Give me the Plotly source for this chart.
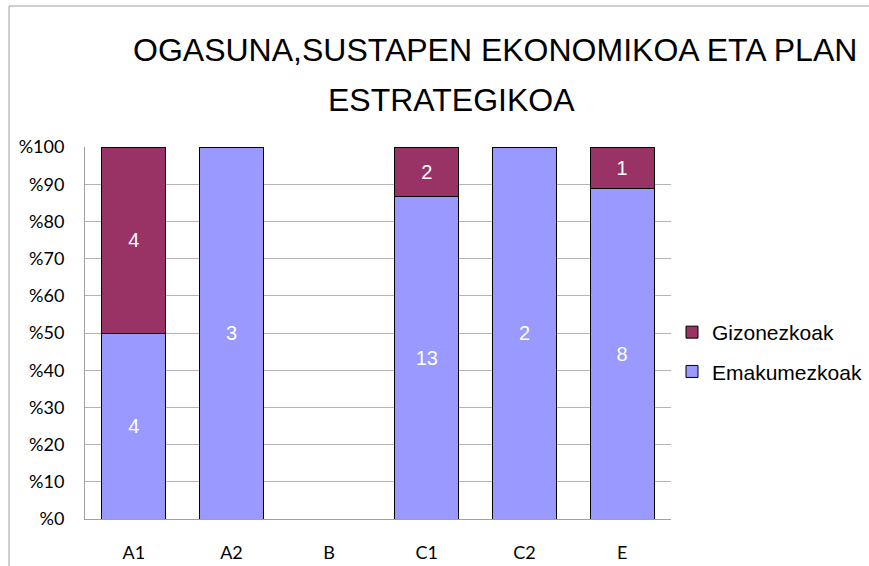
import plotly.graph_objects as go

categories = ["A1", "A2", "B", "C1", "C2", "E"]
emakumezkoak = [4, 3, 0, 13, 2, 8]
gizonezkoak = [4, 0, 0, 2, 0, 1]
y_ticks = [0, 10, 20, 30, 40, 50, 60, 70, 80, 90, 100]
y_ticklabels = ["%" + str(v) for v in y_ticks]

L, R, T, B = 85, 671, 147, 519
W, H = 869, 566
pw, ph = R - L, B - T

def px_x(x):
    return (x - L) / pw

def px_y(y):
    return (B - y) / ph

fig = go.Figure()
fig.add_trace(go.Bar(
    name="Emakumezkoak", x=categories, y=emakumezkoak, legendgroup="e", legendrank=2,
    marker=dict(color="#9999FF", line=dict(color="#000000", width=1)),
    text=[str(v) if v else "" for v in emakumezkoak],
    textposition="inside", insidetextanchor="middle",
    textfont=dict(color="white", size=20, family="Liberation Sans"),
))
fig.add_trace(go.Bar(
    name="Gizonezkoak", x=categories, y=gizonezkoak, legendgroup="g", legendrank=1,
    marker=dict(color="#993366", line=dict(color="#000000", width=1)),
    text=[str(v) if v else "" for v in gizonezkoak],
    textposition="inside", insidetextanchor="middle",
    textfont=dict(color="white", size=20, family="Liberation Sans"),
))

fig.update_layout(
    width=W, height=H,
    barmode="stack", barnorm="percent", bargap=0.345,
    plot_bgcolor="white", paper_bgcolor="white",
    margin=dict(l=L, r=W - R, t=T, b=H - B, pad=0, autoexpand=False),
    showlegend=True,
    legend=dict(
        traceorder="grouped", x=px_x(672), y=px_y(312), xanchor="left", yanchor="top",
        font=dict(family="Liberation Sans", size=21, color="black"),
        itemwidth=30, tracegroupgap=9, bgcolor="rgba(0,0,0,0)",
    ),
    uniformtext=dict(mode="show", minsize=10),
)
fig.update_xaxes(
    showgrid=False, showline=True, linecolor="#a0a0a0", linewidth=1,
    ticks="outside", ticklen=17, tickcolor="rgba(0,0,0,0)",
    tickfont=dict(family="Lato", size=18, color="black"),
    automargin=False,
)
fig.update_yaxes(
    range=[0, 100], tickvals=y_ticks, ticktext=y_ticklabels,
    showgrid=True, gridcolor="#b4b4b4", gridwidth=1,
    showline=True, linecolor="#a0a0a0", linewidth=1,
    ticks="outside", ticklen=16, tickcolor="rgba(0,0,0,0)",
    tickfont=dict(family="Lato", size=18, color="black"),
    zeroline=False, automargin=False,
)

fig.add_annotation(text="OGASUNA,SUSTAPEN EKONOMIKOA ETA PLAN", xref="paper", yref="paper",
                   x=px_x(495), y=px_y(50), xanchor="center", yanchor="middle", showarrow=False,
                   font=dict(family="Liberation Sans", size=32, color="black"))
fig.add_annotation(text="ESTRATEGIKOA", xref="paper", yref="paper",
                   x=px_x(451), y=px_y(100), xanchor="center", yanchor="middle", showarrow=False,
                   font=dict(family="Liberation Sans", size=32, color="black"))

fig.add_shape(type="line", xref="paper", yref="paper", x0=px_x(9), x1=px_x(900), y0=px_y(6), y1=px_y(6),
              line=dict(color="#a0a0a0", width=1))
fig.add_shape(type="line", xref="paper", yref="paper", x0=px_x(9), x1=px_x(9), y0=px_y(6), y1=px_y(600),
              line=dict(color="#a0a0a0", width=1))

fig.write_html("out.html", config={"displayModeBar": False},
               post_script="document.body.style.margin='0';document.body.style.overflow='hidden';")
